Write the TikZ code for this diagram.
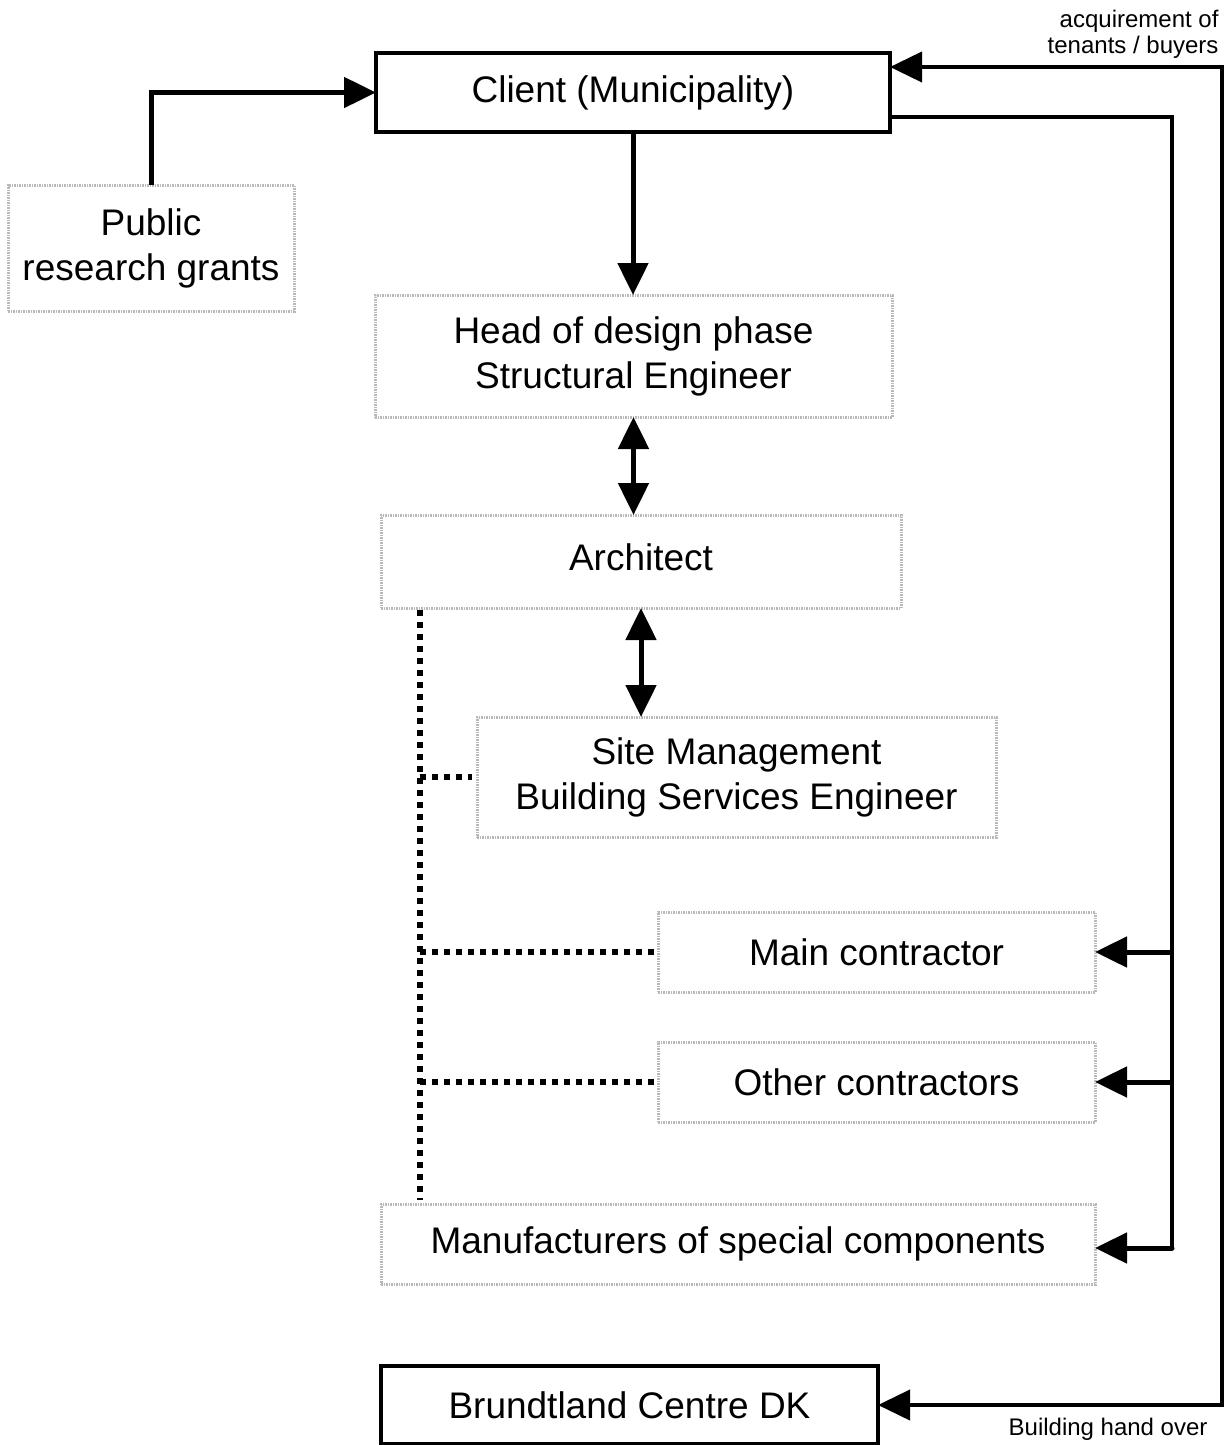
\documentclass[tikz,border=0pt]{standalone}
\usepackage{fontspec}
\setmainfont{Liberation Sans}
\usetikzlibrary{arrows.meta}
\begin{document}
\begin{tikzpicture}[x=1pt,y=-1pt,
  bigfont/.style={font=\fontsize{37}{45}\selectfont},
  smallfont/.style={font=\fontsize{24}{26}\selectfont},
  softbox/.style={draw=gray!55, line width=3pt, dash pattern=on 1.5pt off 1pt, fill=white,
    inner sep=0pt, outer sep=0pt, align=center, bigfont},
  hardbox/.style={draw=black, line width=4pt, fill=white, inner sep=0pt, outer sep=0pt,
    align=center, bigfont},
  flow/.style={line width=5pt, -{Triangle[length=32pt,width=30pt]}},
  both/.style={line width=5pt, {Triangle[length=32pt,width=30pt]}-{Triangle[length=32pt,width=30pt]}},
  outer/.style={line width=4pt, {Triangle[length=32pt,width=30pt]}-{Triangle[length=32pt,width=30pt]}},
  plain/.style={line width=4.5pt},
  dotline/.style={line width=6pt, dash pattern=on 6pt off 6pt}
]
\useasboundingbox[fill=white] (0,0) rectangle (1229,1445);

\node[hardbox, minimum width=514pt, minimum height=79pt] (client) at (633,92.5) {Client (Municipality)};
\node[softbox, minimum width=286pt, minimum height=126pt] (grants) at (151,248) {Public\\research grants};
\node[softbox, minimum width=517pt, minimum height=122pt] (head) at (633.5,356) {Head of design phase\\Structural Engineer};
\node[softbox, minimum width=520pt, minimum height=93pt] (arch) at (641,561.5) {\raisebox{8pt}{Architect}};
\node[softbox, minimum width=519pt, minimum height=120pt] (site) at (736.5,777) {Site Management\\Building Services Engineer};
\node[softbox, minimum width=437pt, minimum height=80pt] (mainc) at (876.5,952) {Main contractor};
\node[softbox, minimum width=437pt, minimum height=80pt] (otherc) at (876.5,1082) {Other contractors};
\node[softbox, minimum width=714pt, minimum height=80pt] (manuf) at (738,1244) {Manufacturers of special components};
\node[hardbox, minimum width=497pt, minimum height=78pt] (brund) at (629.5,1405) {Brundtland Centre DK};

\node[smallfont, anchor=north east, align=right] (lblacq) at (1222,7) {acquirement of\\tenants / buyers};
\node[smallfont, anchor=base east] (lblhand) at (1211,1435) {Building hand over};

% left: grants to client
\draw[flow] (grants.north) |- (client.west);
% vertical chain
\draw[flow] (client.south) -- (client.south |- head.north);
\draw[both] (head.south) -- (head.south |- arch.north);
\draw[both] (arch.south) -- (arch.south |- site.north);

% right trunk
\coordinate (trunkTop) at (1172,117);
\coordinate (trunkBot) at (1172,1248);
\draw[plain] (client.east |- trunkTop) -- (trunkTop) -- (trunkBot);
\draw[flow] (trunkTop |- mainc.east) -- (mainc.east);
\draw[flow] (trunkTop |- otherc.east) -- (otherc.east);
\draw[flow, line cap=round] (trunkBot) -- (manuf.east |- trunkBot);

% outer loop
\coordinate (outTop) at (1222,67);
\coordinate (outBot) at (1222,1405);
\draw[outer] (client.east |- outTop) -- (outTop) -- (outBot) -- (brund.east |- outBot);

% dotted links
\coordinate (dTop) at (420,610);
\coordinate (dBot) at (420,1200);
\draw[dotline] (dTop) -- (dBot);
\draw[dotline, shorten >=5pt] (dTop |- site.west) -- (site.west);
\draw[dotline, shorten >=3pt] (dTop |- mainc.west) -- (mainc.west);
\draw[dotline, shorten >=3pt] (dTop |- otherc.west) -- (otherc.west);
\end{tikzpicture}
\end{document}
